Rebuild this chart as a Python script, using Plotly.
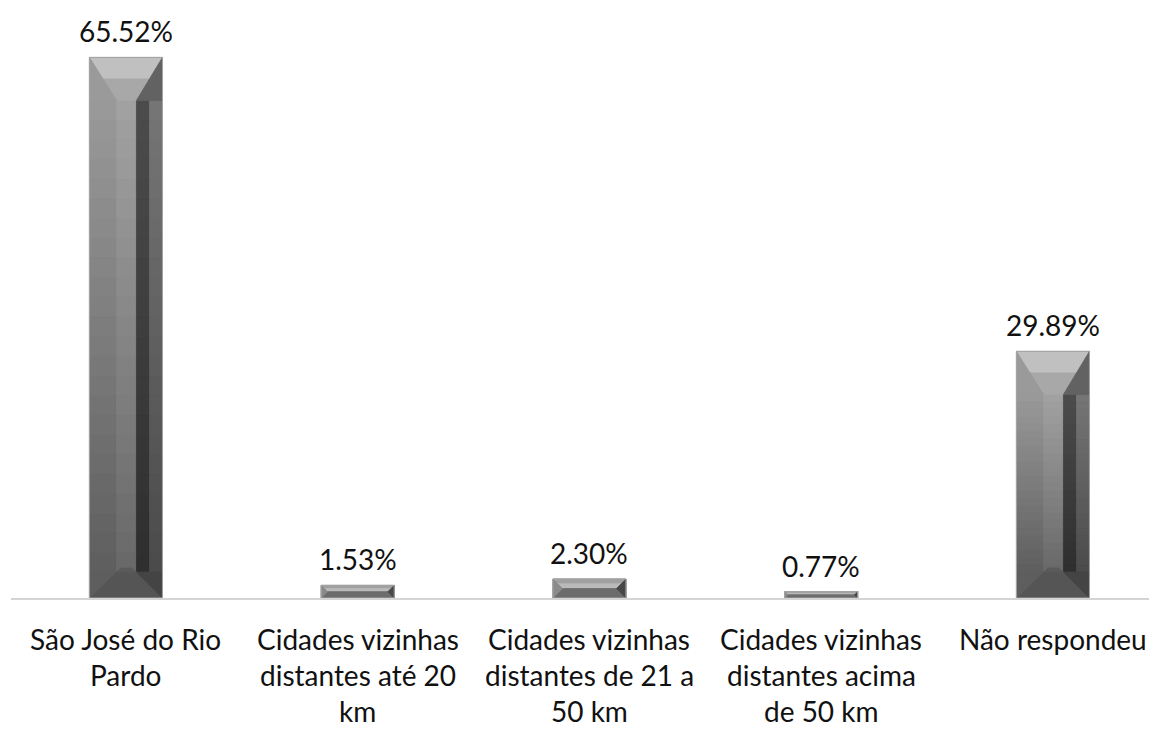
import plotly.graph_objects as go

categories = [
    "São José do Rio<br>Pardo",
    "Cidades vizinhas<br>distantes até 20<br>km",
    "Cidades vizinhas<br>distantes de 21 a<br>50 km",
    "Cidades vizinhas<br>distantes acima<br>de 50 km",
    "Não respondeu",
]
values = [65.52, 1.53, 2.30, 0.77, 29.89]

# page body has an 8px margin, so the figure is slightly smaller
W, H = 1149, 723
ML, MR, MT, MB = 3, 0, 2, 133
XR = [-0.496, 4.449]
YR = [0, 71.27]
PW, PH = W - ML - MR, H - MT - MB
SX = PW / (XR[1] - XR[0])   # px per x unit
SY = PH / (YR[1] - YR[0])   # px per y unit
BAR_W = 73 / SX
FONT = "Lato"
FS = 28

fig = go.Figure()

idx = list(range(len(categories)))
fig.add_trace(go.Bar(
    x=idx, y=values, width=BAR_W,
    marker=dict(color="#6e6e6e", line=dict(color="#9a9a9a", width=1)),
    hoverinfo="skip", showlegend=False,
))


def hexc(c):
    c = c.lstrip("#")
    return [int(c[i:i + 2], 16) for i in (0, 2, 4)]


def lerp(a, b, t):
    a, b = hexc(a), hexc(b)
    return "rgb(%d,%d,%d)" % tuple(round(a[k] + (b[k] - a[k]) * t) for k in range(3))


def poly(xs, ys, color):
    fig.add_trace(go.Scatter(
        x=list(xs) + [xs[0]], y=list(ys) + [ys[0]], mode="lines",
        fill="toself", fillcolor=color, line=dict(width=0.8, color=color),
        hoverinfo="skip", showlegend=False))


K = 24
for i, v in zip(idx, values):
    L, R = i - BAR_W / 2, i + BAR_W / 2
    T, B = v, 0.0
    hpx = v * SY
    if hpx >= 90:
        ty, by = 43 / SY, 26 / SY
        bxl, bxr = 27 / SX, 26 / SX
        xl, xr = L + bxl, R - bxr
        yt, yb = T - ty, B + by
        xm = xr + bxr / 2
        for k in range(K):
            y0 = yb + (yt - yb) * k / K
            y1 = yb + (yt - yb) * (k + 1) / K
            t = (k + 0.5) / K
            poly([L, xl, xl, L], [y0, y0, y1, y1], lerp("#5e5e5e", "#9a9a9a", t))
            poly([xl, xr, xr, xl], [y0, y0, y1, y1], lerp("#686868", "#a2a2a2", t))
            poly([xr, xm, xm, xr], [y0, y0, y1, y1], lerp("#2e2e2e", "#4c4c4c", t))
            poly([xm, R, R, xm], [y0, y0, y1, y1], lerp("#4a4a4a", "#767676", t))
        # top bevel
        ymid = T - ty / 2
        xlm, xrm = L + bxl / 2, R - bxr / 2
        poly([L, R, xrm, xlm], [T, T, ymid, ymid], "#c0c0c0")
        poly([xlm, xrm, xr, xl], [ymid, ymid, yt, yt], "#a8a8a8")
        poly([L, xl, L], [T, yt, yt], "#9a9a9a")
        poly([R, xr, R], [T, yt, yt], "#626262")
        # bottom bevel
        poly([L, R, xr, xl], [B, B, yb, yb], "#555555")
        poly([L, xl, L], [B, yb, yb], "#5e5e5e")
        poly([R, xr, R], [B, yb, yb], "#444444")
        poly([xl, xr, xr - 5 / SX, xl + 5 / SX], [yb, yb, yb + 4 / SY, yb + 4 / SY], "#5a5a5a")
    else:
        half = v / 2
        bx = min(27, hpx / 2) / SX
        xl, xr = L + bx, R - bx
        ym = B + half
        poly([L, R, xr, xl], [T, T, ym, ym], "#a0a0a0")
        poly([L + bx / 2, R - bx / 2, xr, xl], [T - half / 2, T - half / 2, ym, ym], "#bababa")
        poly([L, R, xr, xl], [B, B, ym, ym], "#6c6c6c")
        poly([L, xl, L], [T, ym, B], "#8a8a8a")
        poly([R, xr, R], [T, ym, B], "#474747")
    # rim
    fig.add_trace(go.Scatter(
        x=[L, R, R, L, L], y=[B, B, T, T, B], mode="lines",
        line=dict(color="#a4a4a4", width=1), hoverinfo="skip", showlegend=False))

annotations = []
# value labels
for i, v in zip(idx, values):
    annotations.append(dict(
        x=i, xref="x", y=v, yref="y", yanchor="middle", xanchor="center",
        yshift=26, text="%.2f%%" % v, showarrow=False,
        font=dict(family=FONT, size=FS, color="#111111")))
# category labels
for i, cat in zip(idx, categories):
    for k, line in enumerate(cat.split("<br>")):
        annotations.append(dict(
            x=i, xref="x", y=0, yref="paper", yanchor="middle", xanchor="center",
            yshift=-41 - 36 * k, text=line, showarrow=False, borderpad=0,
            font=dict(family=FONT, size=FS, color="#111111")))

fig.update_layout(
    width=W, height=H,
    margin=dict(l=ML, r=MR, t=MT, b=MB, pad=0),
    paper_bgcolor="white", plot_bgcolor="white",
    annotations=annotations,
    showlegend=False,
    xaxis=dict(range=XR, showgrid=False, zeroline=False, showticklabels=False,
               ticks="", showline=True, linecolor="#d4d4d4", linewidth=2, fixedrange=True),
    yaxis=dict(range=YR, showgrid=False, zeroline=False, showticklabels=False,
               ticks="", showline=False, fixedrange=True),
)

fig.write_html("out.html")
